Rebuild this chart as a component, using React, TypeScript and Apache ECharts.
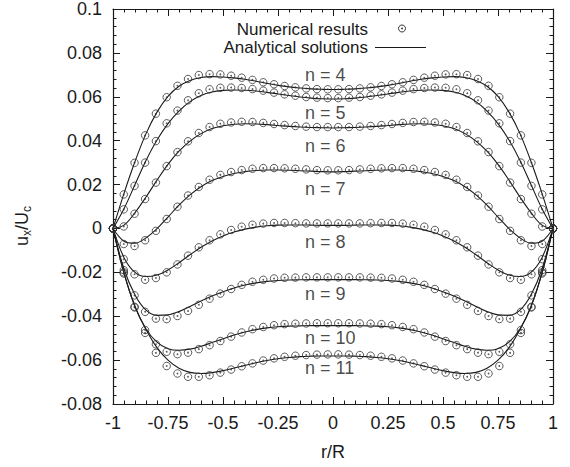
import React, { useEffect, useRef } from "react";
import * as echarts from "echarts";

// |r/R| positions of the numerical lattice nodes (mirrored to negative r)
const NODE_R = [0.024, 0.073, 0.122, 0.171, 0.22, 0.268, 0.317, 0.366, 0.415, 0.463, 0.512, 0.561, 0.61, 0.659, 0.707, 0.756, 0.805, 0.854, 0.902, 0.951, 1.0];

const NUM_4 = [0.0634, 0.0635, 0.0638, 0.0643, 0.0649, 0.0657, 0.0666, 0.0677, 0.0687, 0.0696, 0.0702, 0.0703, 0.0699, 0.0681, 0.065, 0.0598, 0.0523, 0.0424, 0.0299, 0.0155, 0];
const NUM_5 = [0.0594, 0.0596, 0.0599, 0.0605, 0.0611, 0.0619, 0.0628, 0.0635, 0.064, 0.0642, 0.0641, 0.0634, 0.0616, 0.0584, 0.0537, 0.0479, 0.0398, 0.03, 0.0194, 0.0087, 0];
const NUM_6 = [0.0462, 0.0462, 0.0464, 0.0467, 0.0471, 0.0476, 0.0481, 0.0485, 0.0486, 0.0483, 0.0477, 0.0462, 0.0435, 0.0397, 0.0348, 0.0284, 0.0209, 0.0134, 0.0067, 0.0009, 0];
const NUM_7 = [0.0265, 0.0266, 0.0269, 0.0272, 0.0274, 0.0275, 0.0275, 0.0272, 0.0266, 0.0257, 0.0244, 0.0222, 0.0189, 0.015, 0.0099, 0.0043, -0.0011, -0.0054, -0.008, -0.0071, 0];
const NUM_8 = [0.0023, 0.0023, 0.0023, 0.0024, 0.0025, 0.0025, 0.0022, 0.0017, 0.0008, -0.0007, -0.0027, -0.0054, -0.0086, -0.0124, -0.0164, -0.02, -0.0226, -0.0234, -0.0209, -0.014, 0];
const NUM_9 = [-0.0223, -0.0223, -0.0223, -0.0224, -0.0225, -0.0228, -0.0234, -0.0243, -0.0257, -0.0276, -0.0297, -0.032, -0.0348, -0.0376, -0.0399, -0.0413, -0.0411, -0.038, -0.0305, -0.019, 0];
const NUM_10 = [-0.0432, -0.0432, -0.0433, -0.0434, -0.0436, -0.0441, -0.0449, -0.0459, -0.0474, -0.0493, -0.0513, -0.0532, -0.055, -0.0566, -0.0573, -0.0562, -0.0528, -0.0463, -0.0357, -0.02, 0];
const NUM_11 = [-0.0574, -0.0575, -0.0577, -0.058, -0.0585, -0.0592, -0.0602, -0.0615, -0.0628, -0.0643, -0.0657, -0.0669, -0.0676, -0.0676, -0.0661, -0.0627, -0.0567, -0.0476, -0.036, -0.0205, 0];

// |r/R| positions where the analytical curves were read
const LINE_R = [0, 0.05, 0.1, 0.15, 0.2, 0.25, 0.3, 0.35, 0.4, 0.45, 0.5, 0.55, 0.6, 0.65, 0.7, 0.75, 0.8, 0.85, 0.9, 0.95, 1.0];

const ANA_4 = [0.0633, 0.0634, 0.0636, 0.064, 0.0645, 0.0652, 0.0661, 0.0671, 0.068, 0.0686, 0.069, 0.0692, 0.0688, 0.0674, 0.0648, 0.0602, 0.053, 0.0432, 0.0305, 0.016, 0];
const ANA_5 = [0.059, 0.0591, 0.0594, 0.0599, 0.0606, 0.0613, 0.062, 0.0626, 0.063, 0.0631, 0.0629, 0.0622, 0.0606, 0.0578, 0.0535, 0.0478, 0.0403, 0.031, 0.02, 0.009, 0];
const ANA_6 = [0.0458, 0.0459, 0.046, 0.0462, 0.0465, 0.0469, 0.0473, 0.0476, 0.0477, 0.0475, 0.0468, 0.0455, 0.0432, 0.0398, 0.0352, 0.0292, 0.022, 0.0143, 0.0072, 0.0015, 0];
const ANA_7 = [0.0258, 0.0259, 0.0261, 0.0263, 0.0265, 0.0266, 0.0266, 0.0264, 0.0259, 0.025, 0.0237, 0.0218, 0.019, 0.0153, 0.0106, 0.0052, -0.0001, -0.0043, -0.0067, -0.0058, 0];
const ANA_8 = [0.0014, 0.0014, 0.0015, 0.0016, 0.0016, 0.0015, 0.0012, 0.0006, -0.0003, -0.0016, -0.0034, -0.0057, -0.0086, -0.012, -0.0156, -0.0189, -0.0212, -0.0219, -0.02, -0.0133, 0];
const ANA_9 = [-0.0233, -0.0233, -0.0233, -0.0234, -0.0235, -0.0237, -0.0241, -0.0248, -0.0258, -0.0271, -0.0288, -0.0308, -0.0331, -0.0356, -0.0379, -0.0394, -0.0396, -0.0372, -0.0303, -0.0185, 0];
const ANA_10 = [-0.0443, -0.0443, -0.0443, -0.0444, -0.0445, -0.0448, -0.0453, -0.0461, -0.0472, -0.0486, -0.0503, -0.052, -0.0537, -0.055, -0.0555, -0.0548, -0.0518, -0.0458, -0.0357, -0.0202, 0];
const ANA_11 = [-0.0581, -0.0581, -0.0582, -0.0584, -0.0588, -0.0594, -0.0602, -0.0612, -0.0624, -0.0636, -0.0648, -0.0657, -0.0661, -0.0656, -0.0637, -0.06, -0.0543, -0.046, -0.0355, -0.0205, 0];

const N_VALUES = [4, 5, 6, 7, 8, 9, 10, 11];
const NUM_SETS = [NUM_4, NUM_5, NUM_6, NUM_7, NUM_8, NUM_9, NUM_10, NUM_11];
const ANA_SETS = [ANA_4, ANA_5, ANA_6, ANA_7, ANA_8, ANA_9, ANA_10, ANA_11];

// curve label anchors (data coordinates)
const LABEL_R = -0.127;
const LABEL_Y = [0.0699, 0.0525, 0.0377, 0.0178, -0.0061, -0.0299, -0.0501, -0.0638];

const FONT = "Liberation Sans, Arial, Helvetica, sans-serif";
const INK = "#1a1a1a";

function mirror(rs: number[], vs: number[]): number[][] {
  const left: number[][] = [];
  for (let i = rs.length - 1; i >= 0; i--) {
    if (rs[i] !== 0) left.push([-rs[i], vs[i]]);
  }
  const right = rs.map((r, i) => [r, vs[i]]);
  return left.concat(right);
}

const fmt = (v: number) => String(Math.round(v * 100) / 100);

export default function App() {
  const ref = useRef<HTMLDivElement>(null);
  useEffect(() => {
    const chart = echarts.init(ref.current!, null, { renderer: "svg" });

    const axisCommon = {
      axisLine: { show: true, onZero: false, lineStyle: { color: INK, width: 1.2 } },
      axisTick: { show: true, inside: true, length: 7, lineStyle: { color: INK, width: 1 } },
      minorTick: { show: true, splitNumber: 5, length: 3.5, lineStyle: { color: INK, width: 1 } },
      splitLine: { show: false },
    };

    const numericalPts: number[][] = [];
    NUM_SETS.forEach((s) => mirror(NODE_R, s).forEach((p) => numericalPts.push(p)));

    const lineSeries = ANA_SETS.map((s, i) => ({
      type: "line",
      name: "n = " + N_VALUES[i],
      data: mirror(LINE_R, s),
      smooth: 0.35,
      symbol: "none",
      silent: true,
      z: 2,
      lineStyle: { color: INK, width: 1.1 },
    }));

    const option: any = {
      animation: false,
      backgroundColor: "#fff",
      grid: { left: 113, right: 17, top: 9, bottom: 63, containLabel: false },
      xAxis: [
        {
          type: "value",
          min: -1,
          max: 1,
          interval: 0.25,
          position: "bottom",
          ...axisCommon,
          axisLabel: { margin: 10, fontSize: 18, color: INK, fontFamily: FONT, formatter: fmt },
          name: "r/R",
          nameLocation: "middle",
          nameGap: 39,
          nameTextStyle: { fontSize: 18, color: INK, fontFamily: FONT },
        },
        {
          type: "value",
          min: -1,
          max: 1,
          interval: 0.25,
          position: "top",
          ...axisCommon,
          axisLabel: { show: false },
        },
      ],
      yAxis: [
        {
          type: "value",
          min: -0.08,
          max: 0.1,
          interval: 0.02,
          position: "left",
          ...axisCommon,
          axisLabel: { margin: 11, fontSize: 18, color: INK, fontFamily: FONT, formatter: fmt },
        },
        {
          type: "value",
          min: -0.08,
          max: 0.1,
          interval: 0.02,
          position: "right",
          ...axisCommon,
          axisLabel: { show: false },
        },
      ],
      series: [
        ...lineSeries,
        {
          type: "scatter",
          name: "Numerical results",
          data: numericalPts,
          symbol: "circle",
          symbolSize: 7.5,
          silent: true,
          z: 3,
          itemStyle: { color: "rgba(0,0,0,0)", borderColor: "#333", borderWidth: 1 },
        },
        {
          type: "scatter",
          name: "Numerical results (centre)",
          data: numericalPts,
          symbol: "circle",
          symbolSize: 1.8,
          silent: true,
          z: 4,
          itemStyle: { color: "#333" },
        },
        {
          type: "scatter",
          name: "labels",
          data: N_VALUES.map((n, i) => ({ value: [LABEL_R, LABEL_Y[i]], name: "n = " + n })),
          symbolSize: 0,
          silent: true,
          z: 5,
          label: {
            show: true,
            position: "right",
            distance: 0,
            formatter: "{b}",
            fontSize: 18,
            color: INK,
            fontFamily: FONT,
          },
        },
      ],
      graphic: [
        {
          type: "text",
          x: 368,
          y: 29,
          silent: true,
          style: { text: "Numerical results", align: "right", verticalAlign: "middle", fontSize: 17, fontFamily: FONT, fill: INK },
        },
        { type: "circle", silent: true, shape: { cx: 402, cy: 28.5, r: 3.5 }, style: { fill: "none", stroke: "#333", lineWidth: 1 } },
        { type: "circle", silent: true, shape: { cx: 402, cy: 28.5, r: 0.9 }, style: { fill: "#333" } },
        {
          type: "text",
          x: 368,
          y: 47.5,
          silent: true,
          style: { text: "Analytical solutions", align: "right", verticalAlign: "middle", fontSize: 17, fontFamily: FONT, fill: INK },
        },
        { type: "line", silent: true, shape: { x1: 375, y1: 47.5, x2: 426, y2: 47.5 }, style: { stroke: INK, lineWidth: 1.1 } },
        {
          type: "text",
          x: 22,
          y: 226,
          rotation: Math.PI / 2,
          silent: true,
          style: {
            text: "{a|u}{s|x}{a|/U}{s|c}",
            align: "center",
            verticalAlign: "middle",
            fill: INK,
            rich: {
              a: { fontSize: 18, fontFamily: FONT, fill: INK, lineHeight: 22 },
              s: { fontSize: 12, fontFamily: FONT, fill: INK, lineHeight: 12, padding: [10, 0, 0, 0] },
            },
          },
        },
      ],
    };

    chart.setOption(option);
    return () => chart.dispose();
  }, []);

  return <div ref={ref} style={{ position: "absolute", left: 0, top: 0, width: 570, height: 467 }} />;
}
